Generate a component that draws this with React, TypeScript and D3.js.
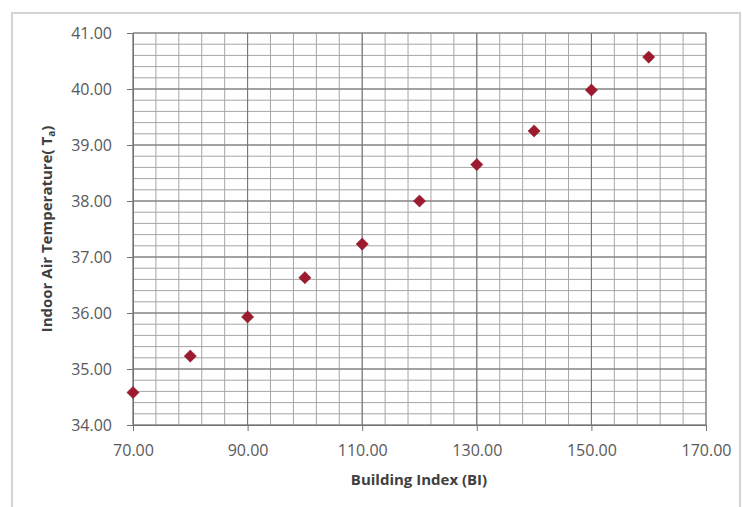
import React, { useEffect, useRef } from 'react';
import * as d3 from 'd3';

// building index values and indoor air temperature
const buildingIndex = [70, 80, 90, 100, 110, 120, 130, 140, 150, 160];
const indoorTemp = [34.58, 35.23, 35.93, 36.63, 37.23, 38.0, 38.65, 39.25, 39.98, 40.57];

const xTicks = [70, 90, 110, 130, 150, 170];
const yTicks = [34, 35, 36, 37, 38, 39, 40, 41];

const App: React.FC = () => {
    const ref = useRef<SVGSVGElement>(null);

    const width = 742;
    const height = 507;
    const margin = { top: 33, right: 36, bottom: 82, left: 133 };
    const innerW = width - margin.left - margin.right;
    const innerH = height - margin.top - margin.bottom;

    useEffect(() => {
        draw();
        //eslint-disable-next-line
    }, []);

    const draw = () => {
        const svg = d3.select(ref.current);
        svg.selectAll('*').remove();

        const font = '"Open Sans", Lato, sans-serif';

        // chart frame
        svg.append('rect')
            .attr('x', 12).attr('y', 13)
            .attr('width', 728).attr('height', 500)
            .attr('fill', '#fff')
            .attr('stroke', '#d4d4d4')
            .attr('stroke-width', 2);

        const g = svg.append('g').attr('transform', `translate(${margin.left},${margin.top})`);

        const x = d3.scaleLinear().domain([70, 170]).range([0, innerW]);
        const y = d3.scaleLinear().domain([34, 41]).range([innerH, 0]);

        // minor grid
        const xMinor = d3.range(70, 170.001, 4);
        const yMinor = d3.range(34, 41.001, 0.2);
        g.append('g').selectAll('line').data(xMinor).enter().append('line')
            .attr('x1', d => x(d)).attr('x2', d => x(d))
            .attr('y1', 0).attr('y2', innerH)
            .attr('stroke', '#a6a6a6').attr('stroke-width', 1);
        g.append('g').selectAll('line').data(yMinor).enter().append('line')
            .attr('x1', 0).attr('x2', innerW)
            .attr('y1', d => y(d)).attr('y2', d => y(d))
            .attr('stroke', '#a6a6a6').attr('stroke-width', 1);

        // major grid
        g.append('g').selectAll('line').data(xTicks).enter().append('line')
            .attr('x1', d => x(d)).attr('x2', d => x(d))
            .attr('y1', 0).attr('y2', innerH)
            .attr('stroke', '#737373').attr('stroke-width', 1);
        g.append('g').selectAll('line').data(yTicks).enter().append('line')
            .attr('x1', 0).attr('x2', innerW)
            .attr('y1', d => y(d)).attr('y2', d => y(d))
            .attr('stroke', '#737373').attr('stroke-width', 1);

        // axes
        const xAxis = g.append('g')
            .attr('transform', `translate(0,${innerH})`)
            .call(d3.axisBottom(x).tickValues(xTicks).tickSize(6).tickSizeOuter(0).tickPadding(14).tickFormat(d => (+d).toFixed(2)));
        const yAxis = g.append('g')
            .call(d3.axisLeft(y).tickValues(yTicks).tickSize(6).tickSizeOuter(0).tickPadding(15).tickFormat(d => (+d).toFixed(2)));

        [xAxis, yAxis].forEach(a => {
            a.select('.domain').attr('stroke', '#737373');
            a.selectAll('.tick line').attr('stroke', '#737373');
            a.selectAll('.tick text')
                .attr('fill', '#595959')
                .style('font-family', font)
                .style('font-size', '16px');
        });

        // points
        g.append('g').selectAll('path')
            .data(buildingIndex.map((b, i) => [b, indoorTemp[i]]))
            .enter().append('path')
            .attr('d', d3.symbol().type(d3.symbolDiamond2).size(95)())
            .attr('transform', d => `translate(${x(d[0])},${y(d[1])})`)
            .attr('fill', '#9e1a2e')
            .attr('stroke', '#7a1020')
            .attr('stroke-width', 0.5);

        // axis titles
        svg.append('text')
            .attr('x', 419)
            .attr('y', 485)
            .attr('text-anchor', 'middle')
            .attr('fill', '#404040')
            .style('font-family', font)
            .style('font-size', '15px')
            .style('font-weight', 'bold')
            .text('Building Index (BI)');

        const yt = svg.append('text')
            .attr('transform', `translate(52,${margin.top + innerH / 2}) rotate(-90)`)
            .attr('text-anchor', 'middle')
            .attr('fill', '#404040')
            .style('font-family', font)
            .style('font-size', '15px')
            .style('font-weight', 'bold');
        yt.append('tspan').text('Indoor Air Temperature( T');
        yt.append('tspan').attr('dy', 3).style('font-size', '10px').text('a');
        yt.append('tspan').attr('dy', -3).text(')');
    };

    return <svg ref={ref} width={width} height={height} style={{ position: 'absolute', left: 0, top: 0 }}></svg>;
};

export default App;
